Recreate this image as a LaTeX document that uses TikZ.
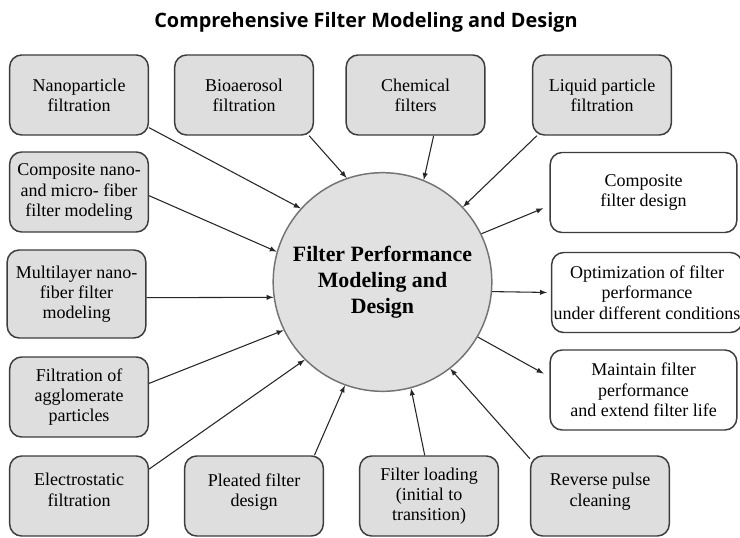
\documentclass[tikz,border=0pt]{standalone}
\usepackage{fontspec}
\setmainfont{Liberation Serif}
\newfontfamily\titlefont{Open Sans}
\usepackage{tikz}

\definecolor{boxgray}{HTML}{DEDEDE}
\definecolor{rimgray}{HTML}{3C3C3C}

\begin{document}
\begin{tikzpicture}[>=latex, x=0.75pt, y=-0.75pt,
    topic/.style={draw=rimgray, line width=1.1pt, rounded corners=9pt, fill=boxgray,
        minimum width=104pt, minimum height=60pt, align=center, inner sep=1.5pt,
        font=\fontsize{13.5}{15.2}\selectfont},
    goal/.style={topic, fill=white, minimum width=140pt},
    hub/.style={circle, draw=black!55, line width=1.1pt, fill=boxgray!90, minimum size=164pt,
        align=center, font=\fontsize{16.4}{19.5}\selectfont\bfseries},
    link/.style={->, line width=0.8pt, draw=black!85}]
    \useasboundingbox (0,0) rectangle (740,537);
    \node[font={\titlefont\fontsize{14.9}{17}\selectfont\bfseries}] (title) at (366,22) {Comprehensive Filter Modeling and Design};
    \node[hub] (core) at (382.5,282) {Filter Performance\\Modeling and\\Design};
    % sources
    \node[topic] (nano) at (79,95) {Nanoparticle\\filtration};
    \node[topic] (bio) at (244,95) {Bioaerosol\\filtration};
    \node[topic] (chem) at (415.5,95) {Chemical\\filters};
    \node[topic] (liquid) at (602,95) {Liquid particle\\filtration};
    \node[topic] (compnano) at (79,192) {Composite nano-\\and micro- fiber\\filter modeling};
    \node[topic, minimum height=66pt] (multi) at (76.5,294) {Multilayer nano-\\fiber filter\\modeling};
    \node[topic] (agglom) at (79,397) {Filtration of\\agglomerate\\particles};
    \node[topic] (electro) at (79,496) {Electrostatic\\filtration\\[-6pt]\mbox{}};
    \node[topic] (pleated) at (254,496) {Pleated filter\\design\\[-6pt]\mbox{}};
    \node[topic] (loading) at (429,496) {Filter loading\\(initial to\\transition)};
    \node[topic] (reverse) at (600,496) {Reverse pulse\\cleaning\\[-6pt]\mbox{}};
    % outcomes
    \node[goal] (compdesign) at (643.5,192.5) {Composite\\filter design};
    \node[goal] (optim) at (647,292.5) {Optimization of filter\\performance\\under different conditions};
    \node[goal] (maintain) at (643.5,390) {Maintain filter\\performance\\and extend filter life};
    \draw[link] (nano.-25) -- (core.138);
    \draw[link] (bio.-32) -- (core.109);
    \draw[link] (chem.-66) -- (core.68);
    \draw[link] (liquid.212) -- (core.43);
    \draw[link] (compnano.-3) -- (core.164);
    \draw[link] (multi.-3) -- (core.188);
    \draw[link] (agglom.11) -- (core.206);
    \draw[link] (electro.21) -- (core.225);
    \draw[link] (pleated.34) -- (core.250);
    \draw[link] (loading.96) -- (core.285);
    \draw[link] (reverse.152) -- (core.308);
    \draw[link, shorten >=5pt] (core.26) -- (compdesign.188);
    \draw[link, shorten >=3pt] (core.-5) -- (optim.west);
    \draw[link, shorten >=5pt] (core.-30) -- (maintain.172);
\end{tikzpicture}
\end{document}
